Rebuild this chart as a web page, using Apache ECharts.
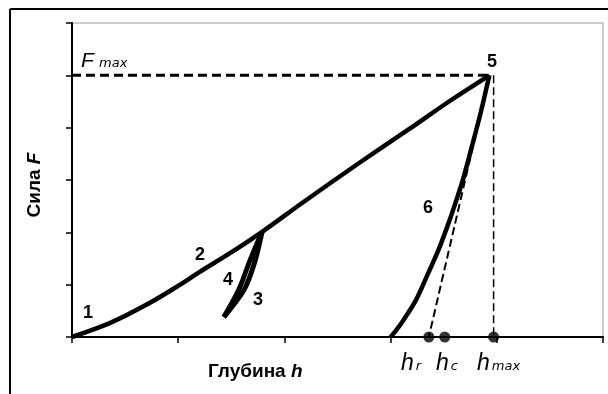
<!DOCTYPE html>
<html>
    <head>
        <meta charset="UTF-8" />
        <script src="https://cdn.jsdelivr.net/npm/echarts@6/dist/echarts.min.js"></script>
    </head>

    <body style="margin:0; background:#fff;">
        <div id="main" style="width: 608px; height: 394px"></div>
        <script type="text/javascript">
            // кривая нагружения 1-2-5
            var loadX = [0, 0.36, 0.73, 1.01, 1.20, 1.51, 1.79, 2.18, 2.70, 3.18, 3.55, 3.93];
            var loadY = [0, 0.27, 0.65, 0.99, 1.24, 1.63, 2.01, 2.58, 3.32, 3.98, 4.50, 5.00];
            // промежуточная разгрузка 3 и повторное нагружение 4
            var unload3X = [1.79, 1.72, 1.62, 1.43];
            var unload3Y = [2.01, 1.43, 0.90, 0.38];
            var reload4X = [1.43, 1.57, 1.67, 1.79];
            var reload4Y = [0.38, 0.90, 1.43, 2.01];
            // кривая разгрузки 6
            var unloadX = [3.93, 3.85, 3.76, 3.68, 3.62, 3.55, 3.45, 3.35, 3.24, 3.13, 3.05, 3.00];
            var unloadY = [5.00, 4.30, 3.60, 3.00, 2.62, 2.20, 1.66, 1.20, 0.71, 0.35, 0.12, 0];
            // характерные глубины и сила
            var hr = 3.36;
            var hc = 3.51;
            var hmax = 3.97;
            var Fmax = 5;
            var peakX = 3.93;

            function pairs(xs, ys) {
                var out = [];
                for (var i = 0; i < xs.length; i++) {
                    out.push([xs[i], ys[i]]);
                }
                return out;
            }

            var chart = echarts.init(document.getElementById("main"));
            var font = 'Liberation Sans';
            var solid = {color: '#000', width: 4.5};
            var loop = {color: '#000', width: 5};

            function num(t, x, y) {
                return {
                    type: 'text', x: x, y: y, z: 10,
                    style: {text: t, fontFamily: font, fontWeight: 'bold', fontSize: 18,
                            fill: '#000', align: 'center', verticalAlign: 'middle'}
                };
            }
            function hLabel(sub, x) {
                return {
                    type: 'text', x: x, y: 364, z: 10,
                    style: {
                        text: '{h|h}{s|' + sub + '}',
                        align: 'left', verticalAlign: 'middle', fill: '#000',
                        rich: {
                            h: {fontFamily: font, fontStyle: 'italic', fontSize: 23, verticalAlign: 'bottom'},
                            s: {fontFamily: 'DejaVu Sans', fontStyle: 'italic', fontSize: 13,
                                verticalAlign: 'bottom', padding: [0, 0, 2, 2]}
                        }
                    }
                };
            }

            var option = {
                animation: false,
                grid: {left: 72, top: 23, right: 5, bottom: 57, show: true,
                       borderColor: '#999', borderWidth: 1},
                xAxis: {
                    type: 'value', min: 0, max: 5, interval: 1,
                    axisLine: {lineStyle: {color: '#000', width: 2}},
                    axisTick: {show: true, inside: false, length: 6, lineStyle: {color: '#000', width: 1.5}},
                    axisLabel: {show: false},
                    splitLine: {show: false}
                },
                yAxis: {
                    type: 'value', min: 0, max: 6, interval: 1,
                    axisLine: {show: true, lineStyle: {color: '#000', width: 2}},
                    axisTick: {show: true, inside: false, length: 6, lineStyle: {color: '#000', width: 1.5}},
                    axisLabel: {show: false},
                    splitLine: {show: false}
                },
                series: [
                    {type: 'line', data: pairs(loadX, loadY), smooth: 0.3, showSymbol: false, lineStyle: solid},
                    {type: 'line', data: pairs(unload3X, unload3Y), smooth: 0.3, showSymbol: false, lineStyle: loop},
                    {type: 'line', data: pairs(reload4X, reload4Y), smooth: 0.3, showSymbol: false, lineStyle: loop},
                    {type: 'line', data: pairs(unloadX, unloadY), smooth: 0.3, showSymbol: false, lineStyle: solid},
                    {type: 'line', data: [[0, Fmax], [peakX, Fmax]], showSymbol: false,
                     lineStyle: {color: '#000', width: 3, type: [9, 5]}},
                    {type: 'line', data: [[peakX, Fmax], [hr, 0]], showSymbol: false,
                     lineStyle: {color: '#000', width: 2, type: [8, 4]}},
                    {type: 'line', data: [[hmax, Fmax], [hmax, 0]], showSymbol: false,
                     lineStyle: {color: '#000', width: 1.5, type: [8, 4]}},
                    {type: 'scatter', data: [[hr, 0], [hc, 0], [hmax, 0]], symbolSize: 11, clip: false,
                     itemStyle: {color: '#000'}, z: 5}
                ],
                graphic: [
                    // внешняя рамка
                    {type: 'line', shape: {x1: 10, y1: 9, x2: 608, y2: 9}, style: {stroke: '#000', lineWidth: 2}},
                    {type: 'line', shape: {x1: 10, y1: 9, x2: 10, y2: 394}, style: {stroke: '#000', lineWidth: 2}},
                    // F max
                    {type: 'text', x: 81, y: 61, style: {text: 'F', fontFamily: font, fontStyle: 'italic',
                        fontSize: 21, fill: '#000', align: 'left', verticalAlign: 'middle'}},
                    {type: 'text', x: 99, y: 64, style: {text: 'max', fontFamily: 'DejaVu Sans', fontStyle: 'italic',
                        fontSize: 13, fill: '#000', align: 'left', verticalAlign: 'middle'}},
                    num('5', 492, 62),
                    num('1', 88, 313),
                    num('2', 200, 255),
                    num('4', 228, 280),
                    num('3', 258, 300),
                    num('6', 428, 208),
                    hLabel('r', 401),
                    hLabel('c', 436),
                    hLabel('max', 477),
                    // подписи осей
                    {type: 'text', x: 208, y: 372, style: {
                        text: '{a|Глубина }{b|h}', align: 'left', verticalAlign: 'middle', fill: '#000',
                        rich: {
                            a: {fontFamily: font, fontWeight: 'bold', fontSize: 19},
                            b: {fontFamily: font, fontWeight: 'bold', fontStyle: 'italic', fontSize: 19}
                        }}},
                    {type: 'text', x: 35, y: 185, rotation: Math.PI / 2, style: {
                        text: '{a|Сила }{b|F}', align: 'center', verticalAlign: 'middle', fill: '#000',
                        rich: {
                            a: {fontFamily: font, fontWeight: 'bold', fontSize: 19},
                            b: {fontFamily: font, fontWeight: 'bold', fontStyle: 'italic', fontSize: 19}
                        }}}
                ]
            };

            chart.setOption(option);
        </script>
    </body>
</html>
